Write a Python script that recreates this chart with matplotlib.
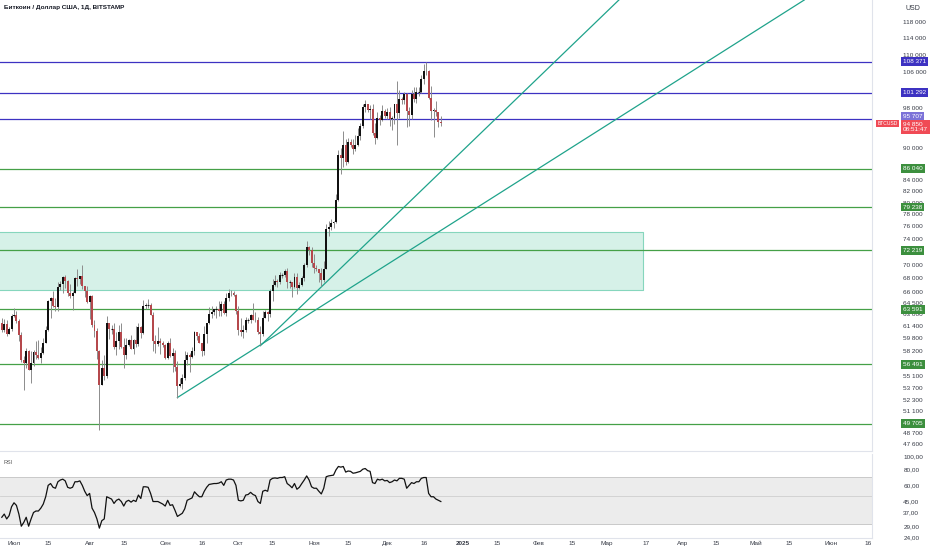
import datetime as dt
import matplotlib
matplotlib.use("Agg")
import matplotlib.pyplot as plt
import matplotlib.dates as mdates
import matplotlib.transforms as mtransforms
from matplotlib.ticker import NullLocator, NullFormatter

plt.rcParams['font.family'] = ['Liberation Sans', 'DejaVu Sans']

# daily BTCUSD candles, 26 Jun 2024 .. 23 Dec 2024
start = dt.date(2024, 6, 26)
opens = [
    61800, 60850, 61600, 60300, 60900,
    62700, 62800, 62000, 60200, 57000, 56600, 58200, 55850, 56700, 58000, 57700, 57300, 57900, 59200, 60800, 64700,
    65100, 64100, 63900, 66700, 67100, 68200, 67600, 65900, 65400, 65800, 68000, 67900, 68300, 66800, 66200,
    64600, 65400, 61500, 60700, 58100, 54000, 56000, 55100, 61700, 60900, 60900, 58700, 59400, 60600, 58700, 57600,
    58900, 59500, 58400, 59500, 59000, 61200, 60400, 64100, 64200, 64200, 62800, 59400, 59000, 59400, 59100,
    58900, 57300, 59100, 57500, 57900, 56200, 53900, 54200, 54900, 57000, 57600, 57400, 58100, 60500, 60000,
    59200, 58200, 60300, 61800, 62900, 63200, 63600, 63600, 63300, 64300, 63100, 65200, 65800, 65900, 65600,
    63300, 60800, 60600, 60800, 62100, 62100, 62800, 62200, 62100, 60600, 60300, 62400, 63200, 62900, 66100,
    67000, 67600, 67400, 68400, 68400, 69000, 67400, 67400, 66700, 68200, 66600, 67000, 68000, 69900, 72700, 72300,
    70200, 69500, 69300, 68700, 67800, 69400, 75600, 75900, 76500, 76700, 80400, 88700, 88000, 90500, 87300,
    91100, 90600, 89800, 90500, 92300, 94300, 98300, 98900, 97700, 97900, 93000, 91900, 95900, 95600, 97500,
    96400, 97300, 95800, 96000, 98800, 97000, 99900, 99850, 101100, 97400, 96600, 101100, 100000, 101400, 101400,
    104400, 106100, 106200, 100200, 97400, 97700, 97200, 95100,
]
highs = [
    62400, 62300, 62200, 61200, 63000,
    63800, 63300, 62300, 60500, 57500, 58500, 58300, 58200, 58300, 59400, 59500, 58600, 59800, 61400, 64900,
    65300, 66100, 65100, 67400, 67600, 68300, 68500, 67800, 67100, 66100, 68200, 69400, 68300, 70000, 66900, 66800,
    65600, 65600, 62200, 61100, 58300, 57000, 57700, 62700, 61800, 61500, 61800, 60600, 61500, 61800, 59800,
    59800, 59700, 60200, 59600, 61400, 61800, 61400, 64900, 64500, 65000, 64500, 63200, 60200, 61200, 59800, 59400,
    59000, 59400, 59800, 58500, 58300, 56900, 54800, 55300, 58100, 58000, 57900, 58600, 60700, 60600, 60400,
    59200, 61300, 61800, 63900, 64100, 63600, 64000, 64800, 64700, 64800, 65800, 66500, 66300, 66100, 65700,
    64100, 62400, 61500, 62500, 62400, 63000, 64500, 63200, 62500, 61300, 63400, 63500, 63300, 66500, 67900,
    68400, 67900, 68900, 68700, 69400, 69500, 67800, 67500, 68800, 68800, 67400, 68300, 70300, 73600, 72900, 72700,
    71600, 69900, 69400, 69500, 70500, 76400, 76900, 77300, 76900, 81500, 89600, 89900, 93400, 91800, 91900,
    91800, 91700, 92600, 94000, 94900, 98900, 99800, 98900, 98600, 98900, 94900, 97200, 96600, 98700, 97800,
    98000, 98200, 96300, 99000, 104000, 101900, 100500, 101400, 101200, 98200, 101900, 102500, 102600, 102600,
    105200, 107800, 108371, 106500, 102800, 98100, 99500, 97300, 96400,
]
lows = [
    60600, 60600, 60000, 60300, 60700,
    62500, 61800, 59400, 56800, 53500, 56000, 55800, 54300, 56300, 57200, 57100, 56600, 57800, 59200, 60700,
    62400, 63900, 63300, 63300, 66300, 65800, 66600, 65500, 65100, 63500, 65800, 66800, 67100, 66500, 65300, 64500,
    62300, 61200, 59900, 57200, 49100, 54000, 54600, 54800, 59600, 60300, 58400, 57700, 58400, 58500, 56100,
    57100, 58800, 58400, 57800, 58600, 58800, 59800, 60300, 63600, 63800, 62800, 58100, 57900, 58800, 57800, 58700,
    57200, 57100, 57400, 55600, 55700, 52600, 53800, 53600, 54600, 56400, 55600, 57300, 57700, 59500, 59200,
    57500, 57600, 59200, 61600, 62400, 62800, 62400, 62700, 62700, 62900, 62700, 64800, 65400, 65400, 62900,
    60200, 60000, 59800, 60500, 61700, 61800, 62100, 61900, 60300, 58900, 60100, 62400, 62000, 62500, 64800,
    66800, 66700, 67200, 68000, 68100, 66600, 66600, 65300, 66600, 65700, 66500, 66900, 67600, 69700, 71500, 69700,
    68800, 69000, 67500, 66800, 67500, 69400, 74500, 75400, 75700, 76500, 80200, 85100, 86300, 86700, 87200,
    90100, 88800, 89400, 90400, 91600, 94000, 97200, 97300, 95800, 92600, 90800, 91800, 94600, 95400, 96000,
    95700, 94400, 93600, 94700, 90500, 95900, 98900, 98800, 94200, 94300, 95700, 99300, 99200, 100600,
    101200, 103300, 105300, 100000, 95600, 92200, 96400, 94200, 94300,
]
closes = [
    60850, 61600, 60300, 60900, 62700,
    62800, 62000, 60200, 57000, 56600, 58200, 55850, 56700, 58000, 57700, 57300, 57900, 59200, 60800, 64700,
    65100, 64100, 63900, 66700, 67100, 68200, 67600, 65900, 65400, 65800, 68000, 67900, 68300, 66800, 66200, 64600,
    65400, 61500, 60700, 58100, 54000, 56000, 55100, 61700, 60900, 60900, 58700, 59400, 60600, 58700, 57600,
    58900, 59500, 58400, 59500, 59000, 61200, 60400, 64100, 64200, 64200, 62800, 59400, 59000, 59400, 59100, 58900,
    57300, 59100, 57500, 57900, 56200, 53900, 54200, 54900, 57000, 57600, 57400, 58100, 60500, 60000, 59200,
    58200, 60300, 61800, 62900, 63200, 63600, 63600, 63300, 64300, 63100, 65200, 65800, 65900, 65600, 63300,
    60800, 60600, 60800, 62100, 62100, 62800, 62200, 62100, 60600, 60300, 62400, 63200, 62900, 66100, 67000,
    67600, 67400, 68400, 68400, 69000, 67400, 67400, 66700, 68200, 66600, 67000, 68000, 69900, 72700, 72300, 70200,
    69500, 69300, 68700, 67800, 69400, 75600, 75900, 76500, 76700, 80400, 88700, 88000, 90500, 87300, 91100,
    90600, 89800, 90500, 92300, 94300, 98300, 98900, 97700, 97900, 93000, 91900, 95900, 95600, 97500, 96400,
    97300, 95800, 96000, 98800, 97000, 99900, 99850, 101100, 97400, 96600, 101100, 100000, 101400, 101400,
    104400, 106100, 106200, 100200, 97400, 97700, 97200, 95100, 94850,
]
rsi = [
    34, 36, 33, 35, 41,
    44, 42, 36, 29, 31, 34, 29, 33, 37, 38, 38, 40, 43, 49, 60, 62, 58, 57, 64, 66,
    67, 65, 58, 57, 58, 64, 64, 65, 60, 54, 50,
    52, 40, 37, 33, 28, 32, 33, 49, 48, 47, 43.5, 46, 47, 45, 41.5, 45, 46, 44.5, 46, 45,
    50.5, 47.5, 58.5, 58.5, 58, 52, 45, 45, 45, 44, 43,
    41.5, 46, 42, 42.5, 38.5, 34.5, 35.5, 36.5, 39.5, 46, 47, 48, 53.5, 51, 49, 49, 54, 58, 61, 61.5,
    62, 62, 62.5, 64, 60, 66, 67, 67, 66, 60,
    46, 45.5, 46, 50.5, 51, 53, 51, 50, 45, 43.5, 54, 55, 54, 66, 68, 68.5, 68, 69, 69, 70,
    62, 60, 57.5, 62, 56, 58, 62, 66, 71, 66, 58.5,
    57, 57, 54, 51.5, 57, 70, 71, 71.5, 72, 79, 84, 83, 84, 76, 77.5, 77, 74.5, 75, 76, 77,
    80, 81, 78, 77, 63, 62, 67, 66, 67, 65,
    65.5, 63, 64, 66, 65, 68, 68, 67, 57, 60, 63, 62, 64, 64, 68, 69, 69, 52, 49, 49,
    47, 46, 45,
]

# drawn levels
blue_levels = [108371, 101292, 95707]
green_levels = [86040, 79238, 72219, 63591, 56491, 49705]
zone_low, zone_high = 66300, 75100
zone_start, zone_end = dt.date(2024, 6, 1), dt.date(2025, 3, 16)
trend1 = [(dt.date(2024, 9, 6), 52600), (dt.date(2025, 5, 21), 123700)]
trend2 = [(dt.date(2024, 10, 10), 58800), (dt.date(2025, 3, 6), 123700)]
last_price = 94850

# axis ticks (the ones hidden under the level boxes are left out)
price_ticks = [118000, 114000, 110000, 106000, 102000, 98000, 90000, 84000, 82000, 80000, 78000,
               76000, 74000, 70000, 68000, 66000, 64500, 63000, 61400, 59800, 58200, 55100, 53700,
               52300, 51100, 48700, 47600]
rsi_ticks = [100, 80, 60, 45, 37, 29, 24]
month_ticks = [dt.date(2024, 7, 1), dt.date(2024, 7, 15), dt.date(2024, 8, 1), dt.date(2024, 8, 15),
               dt.date(2024, 9, 1), dt.date(2024, 9, 16), dt.date(2024, 10, 1), dt.date(2024, 10, 15),
               dt.date(2024, 11, 1), dt.date(2024, 11, 15), dt.date(2024, 12, 1), dt.date(2024, 12, 16),
               dt.date(2025, 1, 1), dt.date(2025, 1, 15), dt.date(2025, 2, 1), dt.date(2025, 2, 15),
               dt.date(2025, 3, 1), dt.date(2025, 3, 17), dt.date(2025, 4, 1), dt.date(2025, 4, 15),
               dt.date(2025, 5, 1), dt.date(2025, 5, 15), dt.date(2025, 6, 1), dt.date(2025, 6, 16)]
month_labels = ["Июл", "15", "Авг", "15", "Сен", "16", "Окт", "15", "Ноя", "15", "Дек", "16",
                "2025", "15", "Фев", "15", "Мар", "17", "Апр", "15", "Май", "15", "Июн", "16"]

n = len(closes)
assert len(opens) == n and len(highs) == n and len(lows) == n and len(rsi) == n
days = [start + dt.timedelta(days=i) for i in range(n)]
xd = mdates.date2num(days)

W, H = 932, 550
fig = plt.figure(figsize=(W / 100, H / 100), dpi=100)
ax = fig.add_axes([0, 99 / H, 872 / W, 451 / H])
ax2 = fig.add_axes([0, 12 / H, 872 / W, 84 / H], sharex=ax)

px_day = 2.439
x0 = mdates.date2num(dt.date(2024, 7, 1)) - 14 / px_day
ax.set_xlim(x0, x0 + 872 / px_day)

grid_col = '#e0e3eb'
txt_col = '#363a45'

# ---- price panel ----
ax.set_yscale('log')
ax.set_ylim(46885, 123700)

ax.fill_between(mdates.date2num([zone_start, zone_end]), zone_low, zone_high,
                color='#d6f1e8', ec='#86d6bd', lw=0.8, zorder=1)

for lv in blue_levels:
    ax.axhline(lv, color='#3d32c2', lw=0.9, zorder=2)
for lv in green_levels:
    ax.axhline(lv, color='#45a047', lw=0.9, zorder=2)

for tl in (trend1, trend2):
    ax.plot(mdates.date2num([tl[0][0], tl[1][0]]), [tl[0][1], tl[1][1]], color='#1fa38b', lw=0.9, zorder=2)

up_col, down_col, wick_col = '#111111', '#b5484c', '#8c8c8c'
for i in range(n):
    col = up_col if closes[i] >= opens[i] else down_col
    ax.vlines(xd[i], lows[i], highs[i], color=wick_col, lw=0.7, zorder=3)
    lo_b, hi_b = min(opens[i], closes[i]), max(opens[i], closes[i])
    if hi_b == lo_b:
        ax.hlines(lo_b, xd[i] - 0.4, xd[i] + 0.4, color=col, lw=0.8, zorder=4)
    else:
        ax.bar(xd[i], hi_b - lo_b, bottom=lo_b, width=0.8, color=col, lw=0, zorder=4)

ax.yaxis.tick_right()
ax.set_yticks(price_ticks)
ax.set_yticklabels([f"{v:,}".replace(',', ' ') for v in price_ticks])
ax.yaxis.set_minor_locator(NullLocator())
ax.yaxis.set_minor_formatter(NullFormatter())
ax.tick_params(axis='y', length=0, pad=22.5, labelsize=4.6, labelcolor=txt_col)
ax.tick_params(axis='x', length=0, labelbottom=False)
for s in ['left', 'top']:
    ax.spines[s].set_visible(False)
ax.spines['right'].set_color(grid_col)
ax.spines['bottom'].set_color(grid_col)
ax.spines['right'].set_linewidth(0.8)
ax.spines['bottom'].set_linewidth(0.8)

lbl_tr = mtransforms.blended_transform_factory(ax.transAxes, ax.transData)


def price_box(val, txt, fc, dy=0.0, xpos=1.0356):
    tr = mtransforms.offset_copy(lbl_tr, fig=fig, x=0, y=dy, units='points')
    ax.text(xpos, val, txt, transform=tr, ha='left', va='center', fontsize=4.6, color='white',
            clip_on=False, zorder=6, bbox=dict(boxstyle='square,pad=0.3', fc=fc, ec='none'))


fmt = lambda v: f"{v:,}".replace(',', ' ')
price_box(blue_levels[0], fmt(blue_levels[0]), '#3d32c2')
price_box(blue_levels[1], fmt(blue_levels[1]), '#3d32c2')
price_box(blue_levels[2], fmt(blue_levels[2]), '#7c72d8', dy=2.2)
for lv in green_levels:
    price_box(lv, fmt(lv), '#3c8f3e')
tr_last = mtransforms.offset_copy(lbl_tr, fig=fig, x=0, y=-2.6, units='points')
ax.text(1.0356, last_price, fmt(last_price) + "\n08:51:47", transform=tr_last, ha='left', va='center',
        fontsize=4.6, color='white', linespacing=1.0, clip_on=False, zorder=7,
        bbox=dict(boxstyle='square,pad=0.3', fc='#f04a55', ec='none'))
ax.text(1.0062, last_price, "BTCUSD", transform=lbl_tr, ha='left', va='center', fontsize=3.6,
        color='white', clip_on=False, zorder=7, bbox=dict(boxstyle='square,pad=0.25', fc='#f04a55', ec='none'))

# ---- RSI panel ----
ax2.set_yscale('log')
ax2.set_ylim(23.5, 104.9)
ax2.axhspan(30, 70, color='#ececec', lw=0, zorder=1)
ax2.axhline(70, color='#c9c9c9', lw=0.7, zorder=2)
ax2.axhline(30, color='#c9c9c9', lw=0.7, zorder=2)
ax2.axhline(50, color='#cfcfcf', lw=0.6, zorder=2)
ax2.plot(xd, rsi, color='#111111', lw=0.9, zorder=3)
ax2.yaxis.tick_right()
ax2.set_yticks(rsi_ticks)
ax2.set_yticklabels([f"{v},00" for v in rsi_ticks])
ax2.yaxis.set_minor_locator(NullLocator())
ax2.yaxis.set_minor_formatter(NullFormatter())
ax2.tick_params(axis='y', length=0, pad=22.5, labelsize=4.6, labelcolor=txt_col)
ax2.set_xticks(mdates.date2num(month_ticks))
ax2.set_xticklabels(month_labels)
ax2.tick_params(axis='x', length=0, pad=2.5, labelsize=4.6, labelcolor=txt_col)
for lab in ax2.get_xticklabels():
    if lab.get_text() == "2025":
        lab.set_fontweight('bold')
for s in ['left', 'top']:
    ax2.spines[s].set_visible(False)
ax2.spines['right'].set_color(grid_col)
ax2.spines['bottom'].set_color(grid_col)
ax2.spines['right'].set_linewidth(0.8)
ax2.spines['bottom'].set_linewidth(0.8)
ax2.text(4 / 872, 0.9, "RSI", transform=ax2.transAxes, fontsize=4, color='#555555', va='center')

fig.text(4 / W, 1 - 7 / H, "Биткоин / Доллар США, 1Д, BITSTAMP", fontsize=4.6, color='#131722',
         va='center', ha='left', fontweight='bold')
fig.text(905 / W, 1 - 9 / H, "USD", fontsize=5, color=txt_col, va='center', ha='left')

fig.savefig("out.png", dpi=100, facecolor='white')
